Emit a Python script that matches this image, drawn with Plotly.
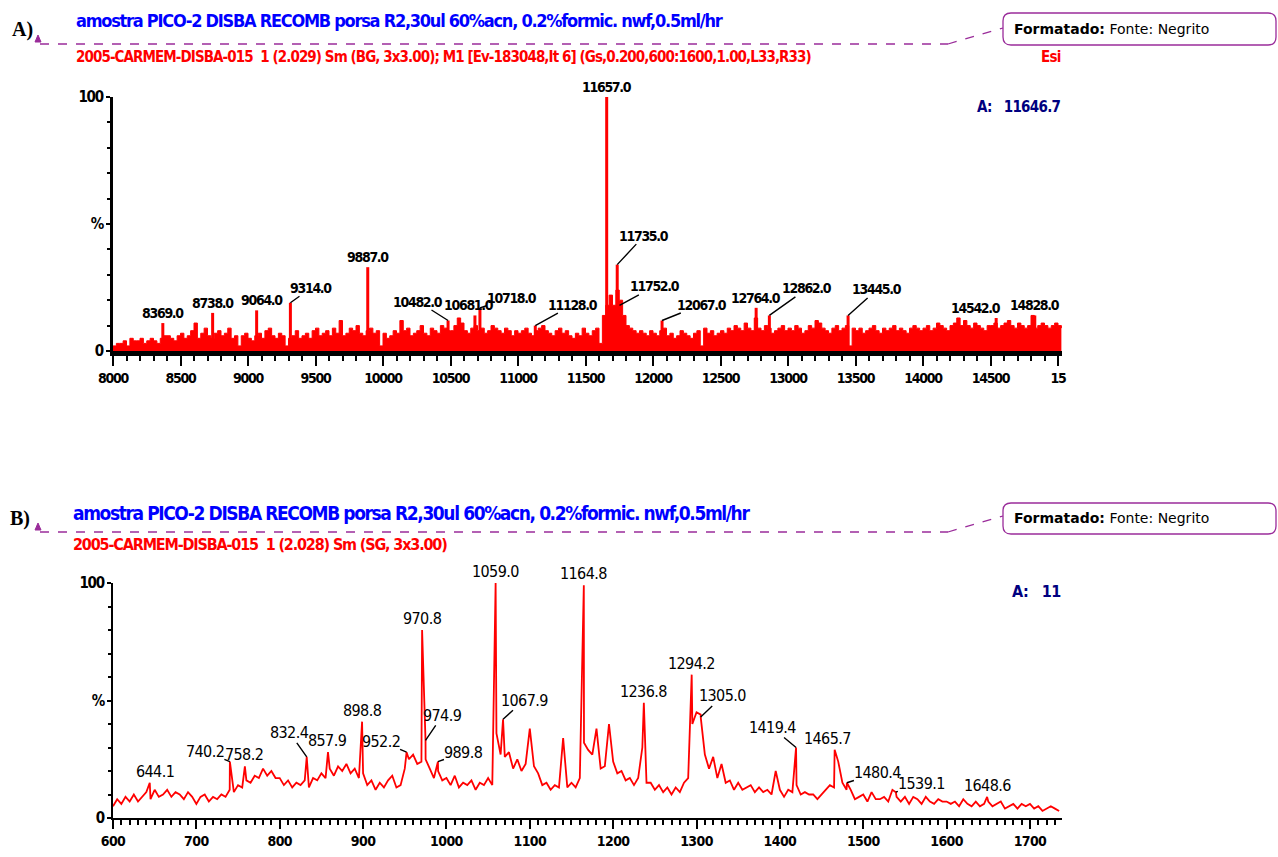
import plotly.graph_objects as go

W, H = 1278, 857

# ---------------- Panel A data (deconvoluted spectrum, % intensity) ----------------
A_MZ_START = 8000
A_MZ_STEP = 25
A_INT = [
    2, 3, 3, 4, 2, 5, 4, 4, 5, 3, 4, 5, 4, 3, 5, 6, 6, 5, 4, 6,
    7, 5, 6, 8, 11, 5, 7, 9, 6, 5, 7, 8, 6, 7, 9, 5, 6, 2, 6, 7,
    5, 4, 6, 7, 5, 8, 9, 6, 5, 7, 6, 2, 5, 6, 8, 5, 6, 7, 5, 8,
    9, 6, 7, 8, 6, 9, 7, 12, 6, 7, 9, 8, 10, 7, 6, 8, 9, 7, 8, 2,
    7, 5, 6, 8, 7, 12, 8, 9, 6, 7, 8, 10, 7, 6, 9, 8, 7, 10, 9, 8,
    8, 10, 13, 11, 8, 7, 9, 10, 8, 9, 7, 8, 10, 9, 8, 7, 9, 8, 6, 8,
    7, 8, 9, 7, 6, 8, 9, 10, 8, 7, 6, 8, 9, 7, 8, 6, 5, 7, 6, 9,
    7, 6, 8, 9, 3, 14, 18, 22, 18, 24, 20, 14, 10, 9, 8, 7, 8, 7, 6, 8,
    7, 6, 8, 9, 6, 7, 5, 6, 8, 7, 6, 5, 7, 8, 2, 9, 7, 8, 6, 7,
    8, 7, 9, 8, 10, 9, 8, 11, 9, 8, 13, 9, 8, 10, 9, 7, 8, 9, 10, 8,
    9, 8, 10, 9, 7, 8, 10, 9, 12, 11, 9, 8, 7, 9, 10, 8, 9, 10, 2, 9,
    8, 9, 7, 8, 9, 10, 8, 7, 9, 8, 9, 10, 8, 9, 8, 7, 9, 10, 9, 8,
    9, 10, 8, 9, 11, 10, 9, 8, 10, 11, 13, 10, 12, 10, 9, 11, 10, 9, 8, 10,
    10, 11, 9, 10, 11, 12, 10, 9, 11, 10, 9, 10, 14, 9, 10, 11, 10, 9, 10, 11,
    10, 9,
]
A_PEAK_MZ = [8369, 8738, 9064, 9314, 9887, 10482, 10681, 10718, 11128, 11657,
             11735, 11752, 12067, 12764, 12862, 13445, 14542, 14828]
A_PEAK_INT = [11, 15, 16, 19, 33, 12, 14, 17, 10, 100,
              34, 18, 12, 17, 14, 14, 13, 14]
A_PEAK_LABEL = ["8369.0", "8738.0", "9064.0", "9314.0", "9887.0", "10482.0", "10681.0",
                "10718.0", "11128.0", "11657.0", "11735.0", "11752.0", "12067.0",
                "12764.0", "12862.0", "13445.0", "14542.0", "14828.0"]
A_XTICK_VALS = [8000, 8500, 9000, 9500, 10000, 10500, 11000, 11500,
                12000, 12500, 13000, 13500, 14000, 14500, 15000]
A_XTICK_TEXT = ["8000", "8500", "9000", "9500", "10000", "10500", "11000", "11500",
                "12000", "12500", "13000", "13500", "14000", "14500", "15"]

# ---------------- Panel B data (raw m/z spectrum, % intensity) ----------------
B_MZ_START = 600
B_MZ_STEP = 5
B_INT = [
    5, 8, 6, 9, 7, 10, 7, 9, 11, 8, 12, 9, 10, 12, 9, 11, 10, 8, 11, 9,
    6, 9, 10, 7, 9, 8, 10, 9, 12, 11, 14, 13, 16, 15, 18, 17, 21, 18, 20, 17,
    17, 14, 16, 13, 15, 14, 16, 13, 17, 16, 19, 17, 21, 18, 22, 20, 23, 19, 21, 17,
    19, 14, 16, 12, 15, 13, 16, 18, 13, 14, 21, 25, 27, 23, 24, 25, 21, 17, 20, 16,
    17, 14, 18, 13, 15, 14, 16, 12, 15, 14, 17, 14, 36, 27, 26, 28, 21, 25, 20, 23,
    38, 22, 19, 14, 15, 12, 14, 13, 34, 13, 15, 13, 17, 32, 29, 27, 38, 21, 22, 40,
    24, 19, 20, 16, 17, 14, 17, 30, 15, 15, 12, 14, 11, 13, 10, 13, 11, 15, 17, 40,
    45, 44, 27, 21, 26, 17, 23, 15, 16, 12, 15, 12, 13, 14, 11, 13, 11, 12, 10, 20,
    12, 9, 12, 11, 14, 10, 11, 10, 10, 8, 10, 12, 14, 13, 24, 15, 12, 12, 8, 9,
    10, 7, 11, 8, 8, 9, 7, 12, 9, 7, 9, 6, 9, 8, 6, 9, 7, 6, 8, 7,
    7, 6, 7, 5, 8, 6, 5, 7, 5, 6, 7, 5, 6, 7, 4, 5, 6, 4, 6, 5,
    6, 4, 5, 3, 4, 5, 4, 3,
]
B_PEAK_MZ = [644.1, 740.2, 758.2, 832.4, 857.9, 898.8, 952.2, 970.8, 974.9, 989.8,
             1059.0, 1067.9, 1164.8, 1236.8, 1294.2, 1305.0, 1419.4, 1465.7,
             1480.4, 1539.1, 1648.6]
B_PEAK_INT = [15, 24, 22, 26, 28, 41, 28, 80, 33, 24,
              100, 42, 99, 49, 61, 43, 30, 29,
              15, 11, 9]
B_PEAK_LABEL = ["644.1", "740.2", "758.2", "832.4", "857.9", "898.8", "952.2", "970.8",
                "974.9", "989.8", "1059.0", "1067.9", "1164.8", "1236.8", "1294.2",
                "1305.0", "1419.4", "1465.7", "1480.4", "1539.1", "1648.6"]
B_XTICK_VALS = [600, 700, 800, 900, 1000, 1100, 1200, 1300, 1400, 1500, 1600, 1700]
B_XTICK_TEXT = ["600", "700", "800", "900", "1000", "1100", "1200", "1300",
                "1400", "1500", "1600", "1700"]

Y_TICK_VALS = [0, 50, 100]
Y_TICK_TEXT = ["0", "%", "100"]

HEAD_BLUE = "amostra PICO-2 DISBA RECOMB porsa R2,30ul 60%acn, 0.2%formic. nwf,0.5ml/hr"
HEAD_RED_A = "2005-CARMEM-DISBA-015  1 (2.029) Sm (BG, 3x3.00); M1 [Ev-183048,It 6] (Gs,0.200,600:1600,1.00,L33,R33)"
HEAD_RED_B = "2005-CARMEM-DISBA-015  1 (2.028) Sm (SG, 3x3.00)"

# ---------------- layout helpers (pixel -> paper) ----------------
def fx(x):
    return x / W


def fy(y):
    return 1 - y / H


def sp(s, ls):
    """tighten letter spacing to mimic the condensed instrument font"""
    return f"<span style='letter-spacing:{ls}px'>{s}</span>"


NARROW = "DejaVu Sans Condensed, DejaVu Sans, Liberation Sans, sans-serif"
RED = "#ff0000"
PURPLE = "#9a2c9a"

# label offsets (pixels): None -> label directly above the peak
A_OFFSETS = {
    "8369.0": None, "8738.0": None, "9064.0": (5, 0), "9314.0": (21, -15),
    "9887.0": None, "10482.0": (-30, -19), "10681.0": (-6, 0), "10718.0": (32, -10),
    "11128.0": (38, -21), "11657.0": None, "11735.0": (27, -29), "11752.0": (35, -19),
    "12067.0": (40, -16), "12764.0": None, "12862.0": (38, -27), "13445.0": (29, -26),
    "14542.0": (-20, 0), "14828.0": None,
}
B_OFFSETS = {
    "644.1": (5, 0), "740.2": (-25, -10), "758.2": (-1, 0), "832.4": (-17, -24),
    "857.9": None, "898.8": None, "952.2": (-26, -11), "970.8": None,
    "974.9": (17, -25), "989.8": (26, -9), "1059.0": None, "1067.9": (21, -19),
    "1164.8": None, "1236.8": None, "1294.2": None, "1305.0": (22, -21),
    "1419.4": (-24, -20), "1465.7": (-7, 0), "1480.4": (31, -10), "1539.1": (26, -9),
    "1648.6": None,
}

fig = go.Figure()

# ---- Panel A traces ----
a_mz = [A_MZ_START + i * A_MZ_STEP for i in range(len(A_INT))]
fig.add_trace(go.Scatter(x=a_mz, y=A_INT, mode="lines", line=dict(color=RED, width=1, shape="hv"),
                         fill="tozeroy", fillcolor=RED, xaxis="x", yaxis="y", hoverinfo="skip"))
stx, sty = [], []
for m, v in zip(A_PEAK_MZ, A_PEAK_INT):
    stx += [m, m, None]
    sty += [0, v, None]
fig.add_trace(go.Scatter(x=stx, y=sty, mode="lines", line=dict(color=RED, width=3),
                         xaxis="x", yaxis="y", hoverinfo="skip"))

# ---- Panel B trace (profile with peak apices merged in) ----
b_pts = [(B_MZ_START + i * B_MZ_STEP, v) for i, v in enumerate(B_INT)]
b_pts += list(zip(B_PEAK_MZ, B_PEAK_INT))
b_pts.sort(key=lambda p: p[0])
fig.add_trace(go.Scatter(x=[p[0] for p in b_pts], y=[p[1] for p in b_pts], mode="lines",
                         line=dict(color=RED, width=1.8), xaxis="x2", yaxis="y2",
                         hoverinfo="skip"))

annotations = []


def peak_labels(mzs, ints, labels, offsets, xref, yref, size, weight, ls):
    for m, v, lab in zip(mzs, ints, labels):
        off = offsets.get(lab)
        font = dict(family=NARROW, size=size, color="black", weight=weight)
        if off is None or off[1] == 0:
            xs = 0 if off is None else off[0]
            annotations.append(dict(x=m, y=v, xref=xref, yref=yref, text=sp(lab, ls),
                                    showarrow=False, yanchor="bottom", xshift=xs, yshift=1,
                                    font=font, borderpad=0))
        else:
            annotations.append(dict(x=m, y=v, xref=xref, yref=yref, text=sp(lab, ls),
                                    showarrow=True, arrowhead=0, arrowwidth=1.4,
                                    arrowcolor="black", ax=off[0], ay=off[1], standoff=0,
                                    font=font, borderpad=0))


peak_labels(A_PEAK_MZ, A_PEAK_INT, A_PEAK_LABEL, A_OFFSETS, "x", "y", 14, "bold", -1.3)
peak_labels(B_PEAK_MZ, B_PEAK_INT, B_PEAK_LABEL, B_OFFSETS, "x2", "y2", 16, "normal", -0.6)


def txt(x, y, s, size, color, family=NARROW, weight="bold", xanchor="left", ls=None):
    annotations.append(dict(x=fx(x), y=fy(y), xref="paper", yref="paper",
                            text=sp(s, ls) if ls is not None else s,
                            showarrow=False, xanchor=xanchor, yanchor="middle",
                            align=xanchor, borderpad=0,
                            font=dict(family=family, size=size, color=color, weight=weight)))


# headers
txt(75, 21, HEAD_BLUE, 18, "#0000ff", ls=-1.25)
txt(75, 57, HEAD_RED_A, 15, RED, ls=-0.92)
txt(1062, 57, "Esi", 15, RED, xanchor="right", ls=-0.8)
txt(1062, 107, "A:&nbsp;&nbsp;&nbsp;11646.7", 15, "#000080", xanchor="right", ls=-0.7)
txt(72, 513, HEAD_BLUE, 19, "#0000ff", ls=-1.4)
txt(72, 544, HEAD_RED_B, 16, RED, ls=-1.15)
txt(1062, 591, "A:&nbsp;&nbsp;&nbsp;11", 16, "#000080", xanchor="right", ls=-0.5)

# A) / B) labels
txt(11, 30, "A)", 20, "black", family="Liberation Serif, Times New Roman, serif")
txt(9, 518, "B)", 20, "black", family="Liberation Serif, Times New Roman, serif")

# comment boxes
for yc in (29, 518):
    annotations.append(dict(x=fx(1013), y=fy(yc), xref="paper", yref="paper",
                            text="<b>Formatado:</b> Fonte: Negrito", showarrow=False,
                            xanchor="left", yanchor="middle", align="left", borderpad=0,
                            font=dict(family="DejaVu Sans, Verdana, sans-serif", size=14,
                                      color="black")))

shapes = []


def rounded_box(x0, y0, x1, y1, r):
    rx, ry = r / W, r / H
    X0, X1, Y0, Y1 = fx(x0), fx(x1), fy(y1), fy(y0)
    return (f"M {X0+rx},{Y0} L {X1-rx},{Y0} Q {X1},{Y0} {X1},{Y0+ry} "
            f"L {X1},{Y1-ry} Q {X1},{Y1} {X1-rx},{Y1} L {X0+rx},{Y1} "
            f"Q {X0},{Y1} {X0},{Y1-ry} L {X0},{Y0+ry} Q {X0},{Y0} {X0+rx},{Y0} Z")


for (ytop, ybot, yline, ydiag) in ((13, 45, 44, 28), (503, 534, 532, 516)):
    shapes.append(dict(type="path", xref="paper", yref="paper",
                       path=rounded_box(1003, ytop, 1276, ybot, 8),
                       line=dict(color=PURPLE, width=1.3), fillcolor="white"))
    shapes.append(dict(type="line", xref="paper", yref="paper", x0=fx(40), y0=fy(yline),
                       x1=fx(948), y1=fy(yline), line=dict(color=PURPLE, width=1.3, dash="dash")))
    shapes.append(dict(type="line", xref="paper", yref="paper", x0=fx(948), y0=fy(yline),
                       x1=fx(1003), y1=fy(ydiag), line=dict(color=PURPLE, width=1.3, dash="dash")))
    # small anchor triangle
    tx, ty = 38, yline - 2
    shapes.append(dict(type="path", xref="paper", yref="paper",
                       path=f"M {fx(tx-3)},{fy(ty)} L {fx(tx+3)},{fy(ty)} L {fx(tx)},{fy(ty-7)} Z",
                       line=dict(color=PURPLE, width=1), fillcolor=PURPLE))

tickfont_a = dict(family=NARROW, size=14, color="black", weight="bold")
tickfont_b = dict(family=NARROW, size=14, color="black", weight="bold")
ytickfont = dict(family=NARROW, size=15, color="black", weight="bold")

fig.update_layout(
    width=W, height=H, autosize=False,
    margin=dict(l=0, r=0, t=0, b=0, pad=0, autoexpand=False),
    paper_bgcolor="white", plot_bgcolor="white",
    showlegend=False,
    annotations=annotations, shapes=shapes,
    xaxis=dict(domain=[fx(113), fx(1062)], range=[8000, 8000 + 949 / 0.135], anchor="y",
               automargin=False,
               tickvals=A_XTICK_VALS, ticktext=[sp(t, -1.3) for t in A_XTICK_TEXT],
               ticks="outside", ticklen=10,
               tickwidth=2, tickcolor="black", showline=True, linecolor="black", linewidth=5,
               showgrid=False, zeroline=False, tickfont=tickfont_a,
               minor=dict(dtick=100, ticks="outside", ticklen=5, tickwidth=2, tickcolor="black",
                          showgrid=False)),
    yaxis=dict(domain=[fy(351), fy(97)], range=[0, 100], anchor="x", automargin=False,
               tickvals=Y_TICK_VALS, ticktext=[sp(t, -1.2) for t in Y_TICK_TEXT],
               ticks="outside", ticklen=4,
               tickwidth=2, tickcolor="black", showline=True, linecolor="black", linewidth=3,
               showgrid=False, zeroline=False, tickfont=ytickfont,
               minor=dict(dtick=10, ticks="outside", ticklen=3, tickwidth=2, tickcolor="black",
                          showgrid=False)),
    xaxis2=dict(domain=[fx(113), fx(1062)], range=[600, 600 + 949 / 0.8336], anchor="y2",
                automargin=False,
                tickvals=B_XTICK_VALS, ticktext=[sp(t, -0.6) for t in B_XTICK_TEXT],
                ticks="outside", ticklen=9,
                tickwidth=1.5, tickcolor="black", showline=True, linecolor="black", linewidth=2,
                showgrid=False, zeroline=False, tickfont=tickfont_b,
                minor=dict(dtick=10, ticks="outside", ticklen=5, tickwidth=1.5,
                           tickcolor="black", showgrid=False)),
    yaxis2=dict(domain=[fy(818), fy(583)], range=[0, 100], anchor="x2", automargin=False,
                tickvals=Y_TICK_VALS, ticktext=[sp(t, -1.2) for t in Y_TICK_TEXT],
                ticks="outside", ticklen=4,
                tickwidth=1.5, tickcolor="black", showline=True, linecolor="black", linewidth=2,
                showgrid=False, zeroline=False, tickfont=ytickfont,
                minor=dict(dtick=10, ticks="outside", ticklen=3, tickwidth=1.5,
                           tickcolor="black", showgrid=False)),
)

fig.write_html("out.html", config={"displayModeBar": False})
